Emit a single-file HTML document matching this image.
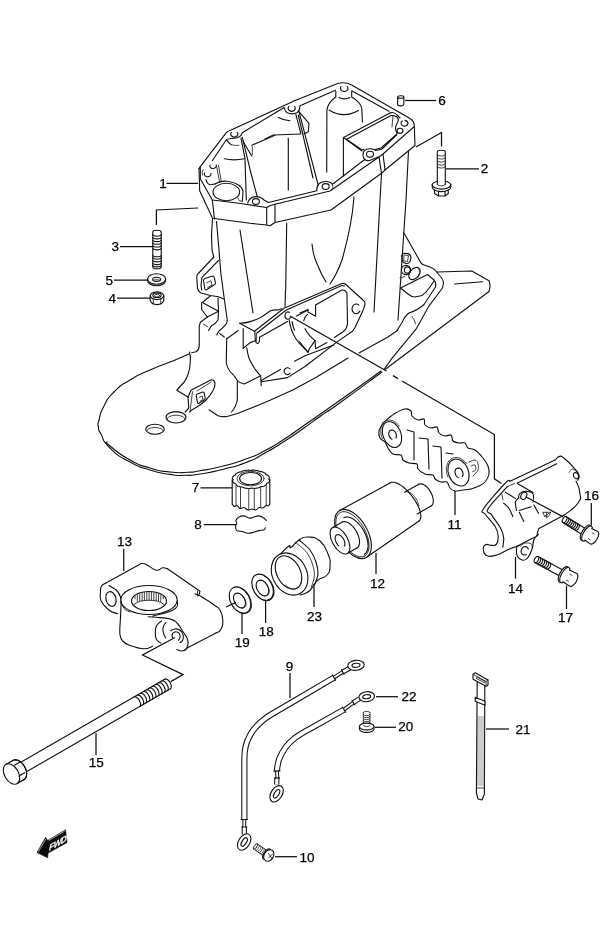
<!DOCTYPE html>
<html><head><meta charset="utf-8">
<style>
html,body{margin:0;padding:0;background:#fff;}
body{width:600px;height:949px;overflow:hidden;font-family:"Liberation Sans",sans-serif;}
svg{display:block;}
.l{fill:none;stroke:#111;stroke-width:1.12;stroke-linecap:round;stroke-linejoin:round;}
.w{fill:#fff;stroke:#111;stroke-width:1.12;stroke-linecap:round;stroke-linejoin:round;}
.t{fill:none;stroke:#222;stroke-width:0.85;stroke-linecap:round;stroke-linejoin:round;}
.ld{fill:none;stroke:#111;stroke-width:1.25;}
text{font-family:"Liberation Sans",sans-serif;font-size:13.5px;fill:#000;stroke:#000;stroke-width:0.25px;text-anchor:middle;}
</style></head><body>
<svg width="600" height="949" viewBox="0 0 600 949">
<rect width="600" height="949" fill="#fff"/>
<defs><filter id="idf" x="0" y="0" width="100%" height="100%" filterUnits="userSpaceOnUse"><feOffset dx="0" dy="0"/></filter></defs>
<g id="labels" filter="url(#idf)">
<text x="163" y="188">1</text>
<text x="484.5" y="173.3">2</text>
<text x="115.3" y="251.2">3</text>
<text x="112.3" y="302.8">4</text>
<text x="109.2" y="284.8">5</text>
<text x="442" y="105.2">6</text>
<text x="195.4" y="492.3">7</text>
<text x="198" y="529.3">8</text>
<text x="289.6" y="670.7">9</text>
<text x="307" y="861.7">10</text>
<text x="454.5" y="529">11</text>
<text x="377.5" y="588">12</text>
<text x="124.6" y="546.3">13</text>
<text x="515.5" y="592.8">14</text>
<text x="96.3" y="767.3">15</text>
<text x="591.5" y="499.6">16</text>
<text x="565.4" y="621.8">17</text>
<text x="266.2" y="635.6">18</text>
<text x="242.3" y="647">19</text>
<text x="405.7" y="730.6">20</text>
<text x="523" y="734">21</text>
<text x="409" y="700.9">22</text>
<text x="314.5" y="620.6">23</text>
</g>
<g id="leaders" class="ld">
<path d="M166.5,183.4H198"/>
<path d="M446,168.8H479"/>
<path d="M120,246.6H153"/>
<path d="M114,280H147.6"/>
<path d="M117,298H150"/>
<path d="M405,100.5H436"/>
<path d="M416,147L441.5,132.5V146.4"/>
<path d="M156.4,225V210L198,208"/>
<path d="M200.5,487.9H232.2"/>
<path d="M203.8,524.5H236"/>
<path d="M242,613V634"/>
<path d="M265.6,600V623"/>
<path d="M314,584V607"/>
<path d="M376,553V574"/>
<path d="M455,491V515"/>
<path d="M515.5,557V578.7"/>
<path d="M591.3,503V525.6"/>
<path d="M566.5,585.6V609"/>
<path d="M123.75,548.75V571"/>
<path d="M96,733.3V755.3"/>
<path d="M290,673V698"/>
<path d="M376,696.7H398"/>
<path d="M375,727.3H396"/>
<path d="M275,856.7H297"/>
<path d="M486,729H509"/>
</g>

<g id="housing">
<path class="l" d="M200.3,166.7 L226.3,132.7 Q228,130.8 230.5,130.3 L293.5,101.2 L294.2,100.3 L295.2,100.4 L338.3,83.3 Q345,81.5 351.7,85 L410,118.5 Q414.3,121.3 414.3,126"/>
<path class="l" d="M199,168.5 L200.3,166.7 L200.3,178.7 L212.3,200 L239,203.3 L266.7,207.5 L270,205.8 L275,204.2 L330,191 L379,157 L383,154 L414.3,126.5"/>
<path class="l" d="M199,168.5 L199.7,190.7 L212.5,218.3 L250,223.3 L266.7,225 L270,225.8 L275,222.5 L331,210 L381.5,173.3 L385,170 L415,145.5 L414.3,126.5"/>
<path class="l" d="M212.3,200 L214.5,219"/>
<path class="l" d="M266.7,207.5 L266.7,224.7"/>
<path class="l" d="M275,204.2 L275,222.3"/>
<path class="l" d="M379,157 L381.5,173.3"/>
<path class="l" d="M383,154 L385,170"/>
<path class="l" d="M212.3,160.7 L225.3,141.2 Q226.6,138.8 229.5,138.7 L236,138 Q241.3,137 242.3,132.7 L284.2,107.5 Q284.6,110.5 286.7,112.5 Q291.7,115.2 297.5,112.5 Q300,110 300,105.8 L335.4,90.2"/>
<path class="l" d="M351.7,90.8 L389,111.2"/>
<path class="l" d="M237.2,132.3 A3.6,2.952 0 1 1 231.4,132.3"/>
<path class="l" d="M294.6,106.6 A3.6,2.952 0 1 1 288.8,106.6"/>
<path class="l" d="M347.3,86.5 A3.8,3.1159999999999997 0 1 1 341.1,86.5"/>
<path class="l" d="M405.1,120.4 A3.5,2.8699999999999997 0 1 1 402.3,121.0"/>
<ellipse class="l" cx="400" cy="130.8" rx="3" ry="2.6"/>
<ellipse class="l" cx="370" cy="154.2" rx="3.5" ry="2.9"/>
<ellipse class="l" cx="325.7" cy="186.5" rx="3.5" ry="2.9"/>
<ellipse class="l" cx="255.9" cy="201.5" rx="3.5" ry="2.9"/>
<path class="l" d="M216.2,165.5 A3.2,2.624 0 1 1 210.0,165.1"/>
<path class="l" d="M211.0,173.5 A3.4,2.788 0 1 1 204.5,173.0"/>
<path class="t" d="M216.3,164.7 L219.7,182.7"/>
<path class="t" d="M218.5,165.5 L221.3,181.5"/>
<path class="l" d="M206,179.5 Q207,184 210,184.8 L215,184"/>
<path class="t" d="M203,170 Q201.5,172 202.5,175"/>
<ellipse class="l" cx="226.3" cy="192" rx="13.3" ry="8.7"/>
<path class="l" d="M215,184 Q220,180.6 227,181.3 Q234,182 239,185.3 Q243,188.5 243,192 L242.3,201.3"/>
<path class="t" d="M237.7,198 Q238.2,201.5 242.3,201.5"/>
<path class="l" d="M247.7,203.3 Q248.5,198.3 254,196.9 Q260,195.8 264,200 L268.3,202.5 L316.8,190.8 Q316.5,186 319.5,183.2 Q325,180 331,182.8 L332.5,184.3 L364.7,159.5"/>
<path class="t" d="M332.5,184.3 Q334,187.5 331.5,190.3"/>
<path class="l" d="M364.7,159.5 Q361.5,155.5 364,151 Q367,148.4 371,148.8 Q374.5,149.3 376,150.5 M364.7,159.5 Q367,161.5 371,160 L378,157"/>
<path class="l" d="M362,151 L343.5,137.5 L390.5,112.8"/>
<path class="l" d="M390.5,112.8 Q394,111.5 397,115 L400,118"/>
<path class="l" d="M376,150.5 L382,149 L396.5,135"/>
<path class="l" d="M346.5,139.3 L391.5,115.2 L396.5,116.5 Q400,119.5 396.5,124.5 Q394.5,128.5 396.5,132 L397,134 L381,148 L375,149.5 M364,149.3 L362,150 L346.5,139.3"/>
<path class="t" d="M393,115.5 L392,127"/>
<path class="l" d="M343.4,138 V176"/>
<path class="l" d="M335.8,91.2 V97 Q328,102 326.9,110 L326.7,172"/>
<path class="l" d="M351.7,91.5 V97 Q360.5,102 361.8,108.5 L362.4,122"/>
<path class="l" d="M339,97.6 Q344.5,100.2 350,97.6"/>
<path class="l" d="M329,110 Q343.3,119 358.5,110.5"/>
<path class="l" d="M278.3,117.5 Q284,120.5 290,120.8"/>
<path class="l" d="M295.8,114.2 L300.8,133.3"/>
<path class="l" d="M298.3,110.8 L309,123.3 L308.3,131.7 L304,134"/>
<path class="l" d="M299,111.7 L318.3,185.5"/>
<path class="l" d="M298.3,115 L313,178"/>
<path class="l" d="M265,139 L273.3,135 L300.8,134"/>
<path class="l" d="M288.3,138.3 V190"/>
<path class="l" d="M226.3,140 L231,144.7"/>
<path class="l" d="M241,138 L245,158.7 L246.3,200"/>
<path class="l" d="M242.3,137.3 L251,173.3 L257.3,197"/>
<path class="l" d="M243,141.3 L251.7,156"/>
<path class="l" d="M251.7,145.3 L275,135.3"/>
<path class="t" d="M252.3,146.7 V154.7"/>
<path class="l" d="M224.3,158.7 Q233.7,161 244.3,158.7"/>
<path class="t" d="M231,144.7 Q236,146 239,145.3"/>
<path class="l" d="M212.5,218.3 L211.5,235 L212,250 L213.8,257 L197.8,274 Q196.5,275.5 196.8,278 L197.5,288.5 Q198.5,292 201,293 L210.3,295.5 L218.5,296.7 L223.75,299"/>
<path class="l" d="M218.5,260.5 L202,277.4 L201,285 L201.6,290"/>
<path class="l" d="M203.5,280.5 Q203.5,279 205,278.5 L212.5,276 Q214,276 214.3,277.5 L215.5,283 Q215.5,284.5 214,285 L206.5,289.8 Q205,290 204.7,288.5 Z"/>
<path class="t" d="M206.8,282.5 L211,280.8 L212,285.2 L207.7,287.3"/>
<path class="l" d="M216.5,221.5 L219,250 L220.8,273 L224.3,299 L227.25,320 Q227.5,323 225,325.5 L218.5,331.7 L216.75,335"/>
<path class="l" d="M219.7,333.4 L224.3,337 M226.7,338.7 L238.3,330.5"/>
<path class="l" d="M226.7,338.7 L226.25,362.5 Q227.5,370 233,374.5 L235,377"/>
<path class="l" d="M210.3,296 L201.6,303 L201.6,309.5 L207.4,317 L218.5,311.25"/>
<path class="l" d="M203.3,303 L218.5,311.25"/>
<path class="l" d="M218,297.8 L218.5,311.25 L218,320 Q216,323.5 211.5,325.8 L208.6,330.5"/>
<path class="l" d="M207.4,317 L200.4,322.3 L199.25,325.8 L199.25,345.7 Q199,350 196,351.8 L191.7,352.7"/>
<path class="t" d="M203.3,324 L208,327"/>
<path class="l" d="M240,230 L253,313"/>
<path class="l" d="M286.7,223 L285.7,290"/>
<path class="l" d="M312,244 Q313,256 318,266 Q321,274 326,282"/>
<path class="l" d="M354,197 Q352,225 342,260 Q337,274 330,284"/>
<path class="l" d="M381.5,174 L380,200 L374,312"/>
<path class="l" d="M408.5,151 L406,200 L398,320"/>
<path class="l" d="M239.7,323.3 Q246,323 250.2,321.6 Q256,320 260.7,317.5 Q266,314 270,311 Q274,309.6 278.2,310 L281.5,308.8"/>
<path class="l" d="M254.8,331 L284,308.2 L341.25,283.75 Q343.5,283 345,283.75 L363,300 Q365.3,301.5 365,303.75 L363.75,308.75 L355,327.5 L352.5,331.25 L338.75,340.6 L305,366.5 L287.5,377.6 L261.25,381.7"/>
<path class="l" d="M256.6,333.25 L286.3,310 L341.25,285.8 Q343,285.2 344.5,286"/>
<path class="l" d="M239.7,323.3 L254.8,331.5 L255.4,340.8 Q256.3,343.6 257.5,343.6 Q259,343.3 259.5,340.8 L259.5,337.3 L287.5,321.6"/>
<path class="t" d="M256.6,334 V341"/>
<path class="l" d="M243.2,328.6 V348.4 L247.25,345 L250.2,342.6 L255.4,340.8"/>
<path class="l" d="M246.7,347.8 Q247.5,353 249,358.3 Q251.5,364 254.8,368.8 Q257.5,372.5 260.7,375.8 L261.25,385.75"/>
<path class="l" d="M261.25,380.5 L280.5,369.4 M294.5,361.25 L305,355.8 L333.75,345"/>
<path class="l" d="M300,313 L308,309.4 V312 L315.6,316.25 V305 L341.9,290 Q345.5,289.5 346.9,293 L347.5,323.75 Q347,328.5 343.75,331.25 L334.4,337.5 M327,342.5 L315.6,348.75 L315,340.6"/>
<path class="l" d="M296.5,316 L308,310"/>
<path class="l" d="M315,340.6 L309.4,348.75 L308,352.5 L300,342.5"/>
<path class="l" d="M290.1,373.4 A3.4,3.4 0 1 1 290.1,369.0"/>
<path class="l" d="M359.9,311.1 A4.2,4.8 0 1 1 358.9,305.1"/>
<path class="l" d="M290.7,316.8 A2.9,3.7 0 1 1 289.4,312.3"/>
<path class="l" d="M289.25,320.4 Q290.5,330 295.7,338.5 Q299.5,344.5 305,349 L308,352"/>
<path class="l" d="M292.2,321.6 Q292.7,326 294.5,330.3"/>
<path class="t" d="M299,341 Q302.5,346 307,350"/>
<path class="l" d="M307.5,314.4 Q304.5,317 303.75,320.6"/>
<path class="l" d="M305,328.75 Q308,335 315,340.6"/>
<path class="l" d="M235,377 L237.3,380.5 Q240,383.5 244.3,384 L260.7,375.8 M237.3,380.5 V400"/>
<path class="l" d="M285.5,290 L285,306.5"/>
<path class="l" d="M404,233 L421,263 Q422.5,264.6 424,265 L430,267 Q433,268.2 435,270 L440,276 Q443.5,280 443.5,283 L442.5,288 L428.5,306.7 L416.6,328.3 L391.7,358.7 L384,369.5"/>
<path class="l" d="M437,272 L471.8,271 L489,280.7 Q491,285 489,291.5 L385,369.5"/>
<path class="l" d="M454.5,284 L482.7,281.75"/>
<path class="l" d="M427.5,274.5 L434,280 Q436.5,283 435.5,287 L424,304.5 Q418,310 409,313 Q404,317 402.5,321.8 L397,330.5"/>
<path class="l" d="M400.5,288 L427.5,274.5"/>
<path class="l" d="M400.5,288 L408,294 Q411.5,297 415,297 L422,295.5 Q426,293 430,287 L434,281"/>
<path class="t" d="M412,316.4 Q415,320 415.5,324"/>
<path class="l" d="M401.8,257 Q401.5,254 404,253.3 L408,253.6 Q411,254.5 411,257.5 L410,261.5 Q409,263.8 406,263.5 L403.5,262.5 Q401.6,261 401.8,257 Z"/>
<path class="t" d="M404.5,255 L408.5,255.5 L407.5,261.5 L404,261 Z"/>
<ellipse class="l" cx="406" cy="270" rx="4.6" ry="4.6"/>
<ellipse class="l" cx="407.3" cy="270" rx="3" ry="3.1"/>
<ellipse class="l" cx="414.5" cy="273.5" rx="4.6" ry="7" transform="rotate(40 414.5 273.5)"/>
<path class="t" d="M418.5,268.8 Q421,272 418,277.3"/>
<path class="t" d="M400,278 L405,276.5"/>
<path class="l" d="M189.5,352 Q191,357 190.25,362.5 Q190,369 188,374.5 Q186.5,378.5 184.25,382 L176.75,390.25 L188,397"/>
<path class="l" d="M188,397 L191,390.25 L211.25,379.75 Q214,379.5 215,382.75 Q215.3,387 212.75,391 Q210,396 206,400 Q202.5,403.5 198.5,406 L191,410.5 L189.5,412"/>
<path class="l" d="M188,397 L188.75,407.5 Q188,410 185,412"/>
<path class="t" d="M192.5,391.75 L190.25,409.75"/>
<path class="t" d="M197,391 L211.25,382"/>
<path class="l" d="M196.25,396 Q196,394.5 197.5,394 L202.5,392 Q204,391.8 204.2,393.3 L205.2,398 Q205.3,399.5 204,400 L199,403.3 Q197.8,403.7 197.5,402.3 Z"/>
<path class="t" d="M199.3,397.3 L202.3,396 L203,399.5 L200,401.3"/>
<path class="l" d="M209,409.75 L218,415.75 Q222,417 227,416.5 L237.5,413.5 L260,404.5 L270,400.3 L293.3,389.8 L316.7,377 L348,358 M359,353 L388,337 L398,330"/>
<path class="l" d="M237.3,400 Q236,407 231.5,412"/>
<path class="l" d="M189.0,354.0 C182.7,356.7 183.0,356.7 170.0,362.0 C157.0,367.3 163.3,364.0 150.0,370.0 C136.7,376.0 142.0,372.7 130.0,380.0 C118.0,387.3 122.7,383.3 114.0,392.0 C105.3,400.7 109.0,396.7 104.0,406.0 C99.0,415.3 100.9,413.0 99.0,420.0 C97.1,427.0 97.7,422.3 98.4,427.0 C99.1,431.7 97.1,427.0 101.0,434.0 C104.9,441.0 100.3,438.7 110.0,448.0 C119.7,457.3 116.7,454.7 130.0,462.0 C143.3,469.3 136.7,465.9 150.0,470.0 C163.3,474.1 158.3,472.6 170.0,474.4 C181.7,476.2 175.0,475.4 185.0,475.3 C195.0,475.2 187.2,476.0 200.0,474.0 C212.8,472.0 207.7,473.1 223.3,469.2 C238.9,465.3 232.7,467.7 246.7,462.2 C260.7,456.7 252.1,460.2 265.3,452.8 C278.5,445.4 273.1,448.5 286.3,440.0 C299.5,431.5 293.3,435.4 305.0,427.2 C316.7,419.0 309.6,423.7 321.3,415.5 C333.0,407.3 319.8,417.2 340.0,402.7 C360.2,388.2 368.0,382.2 382.0,372.0"/>
<path class="l" d="M107.0,442.0 C108.0,443.3 102.3,440.0 110.0,446.0 C117.7,452.0 116.7,452.7 130.0,460.0 C143.3,467.3 136.7,464.0 150.0,468.0 C163.3,472.0 157.3,470.6 170.0,472.0 C182.7,473.4 178.0,472.6 188.0,472.2 C198.0,471.8 188.2,472.9 200.0,470.8 C211.8,468.7 207.7,470.0 223.3,466.0 C238.9,462.0 232.7,463.9 246.7,458.7 C260.7,453.5 252.1,457.5 265.3,450.5 C278.5,443.5 273.1,446.3 286.3,437.7 C299.5,429.1 287.1,437.3 305.0,424.8 C322.9,412.3 314.7,418.2 340.0,400.3 C365.3,382.4 367.3,380.8 381.0,371.0"/>
<ellipse class="l" cx="176" cy="417.3" rx="10" ry="5.7"/>
<ellipse class="l" cx="155" cy="429.3" rx="9.3" ry="5"/>
<path class="t" d="M167.0,419.2 A9,4 0 0 1 185.0,419.2"/>
<path class="t" d="M146.7,431.0 A8.3,3.5 0 0 1 163.3,431.0"/>
<path class="ld" d="M290,316 L386.5,371 M393,375.6 L398,378.6 M402,381 L494.4,434.5 V478.8 L501.4,483.5"/>
</g>
<g id="small">
<path class="l" d="M397.6,97 V104.6 A3.1,1.3 0 0 0 403.8,104.6 V97 A3.1,1.3 0 0 0 397.6,97 A3.1,1.3 0 0 0 403.8,97"/>
<path class="l" d="M437.3,152 V184.5 M445.3,152 V184.5 M437.3,152 A4,1.8 0 0 1 445.3,152"/>
<path class="t" d="M437.3,154.5 A4,1.6 0 0 0 445.3,154.5"/>
<path class="t" d="M437.3,157.5 A4,1.6 0 0 0 445.3,157.5"/>
<path class="t" d="M437.3,160.5 A4,1.6 0 0 0 445.3,160.5"/>
<path class="t" d="M437.3,163.5 A4,1.6 0 0 0 445.3,163.5"/>
<path class="t" d="M437.3,166.5 A4,1.6 0 0 0 445.3,166.5"/>
<path class="t" d="M437.3,184.3 A4,1.6 0 0 0 445.3,184.3"/>
<path class="l" d="M437.3,181.2 A9.3,4.4 0 0 0 432.2,184.5 A9.3,4.6 0 0 0 450.8,184.5 A9.3,4.4 0 0 0 445.3,181.2"/>
<path class="l" d="M432.2,184.5 V187 A9.3,4.6 0 0 0 450.8,187 V184.5"/>
<path class="l" d="M434.5,190 V193.5 L438.5,196 L445,196 L448.3,193.5 V190 M438.5,191.6 V196 M445,191.6 V196"/>
<path class="l" d="M152.8,232 V267 M161.2,232 V267 M152.8,232 A4.2,1.8 0 0 1 161.2,232 M152.8,267 A4.2,1.8 0 0 0 161.2,267"/>
<path class="l" d="M152.8,234.6 A4.2,1.6 0 0 0 161.2,234.6"/>
<path class="l" d="M152.8,237.3 A4.2,1.6 0 0 0 161.2,237.3"/>
<path class="l" d="M152.8,240 A4.2,1.6 0 0 0 161.2,240"/>
<path class="l" d="M152.8,242.7 A4.2,1.6 0 0 0 161.2,242.7"/>
<path class="l" d="M152.8,245.4 A4.2,1.6 0 0 0 161.2,245.4"/>
<path class="l" d="M152.8,248.3 A4.2,1.6 0 0 0 161.2,248.3"/>
<path class="l" d="M152.8,255.2 A4.2,1.6 0 0 0 161.2,255.2"/>
<path class="l" d="M152.8,257.6 A4.2,1.6 0 0 0 161.2,257.6"/>
<path class="l" d="M152.8,260.3 A4.2,1.6 0 0 0 161.2,260.3"/>
<path class="l" d="M152.8,263 A4.2,1.6 0 0 0 161.2,263"/>
<path class="l" d="M152.8,265.3 A4.2,1.6 0 0 0 161.2,265.3"/>
<ellipse class="l" cx="156.6" cy="279" rx="9" ry="5.2"/>
<ellipse class="l" cx="156.6" cy="279.3" rx="4" ry="2.1"/>
<path class="l" d="M147.6,279 V280.6 A9,5.2 0 0 0 165.6,280.6 V279"/>
<path class="t" d="M153.2,280.3 A4,1.6 0 0 1 160,280.3"/>
<path class="l" d="M150.2,296 Q150.5,292.3 157,291.8 Q163.5,292.3 163.8,296 L163.8,300.5 Q162.5,304.3 157,304.6 Q151.5,304.3 150.2,300.5 Z"/>
<path class="l" d="M150.2,296 Q151.5,299.3 157,299.6 Q162.5,299.3 163.8,296"/>
<path class="t" d="M153.3,299 V304 M160.7,299 V304"/>
<ellipse class="l" cx="157" cy="295.2" rx="4.1" ry="2.3"/>
<ellipse class="t" cx="157" cy="295.6" rx="2.6" ry="1.4"/>
</g>
<g id="parts">
<path class="l" d="M268.9,479.3 L269.5,479.8 L269.7,480.3 L269.6,480.8 L269.4,481.2 L269.2,481.7 L268.9,482.2 L268.5,482.6 L267.8,483.0 L266.9,483.3 L266.5,483.7 L266.5,484.3 L266.2,484.8 L265.6,485.2 L265.0,485.5 L264.3,485.9 L263.6,486.2 L262.8,486.5 L261.8,486.6 L260.7,486.7 L260.0,487.0 L259.4,487.5 L258.6,487.8 L257.7,488.0 L256.8,488.1 L255.9,488.3 L254.9,488.4 L253.9,488.5 L252.9,488.3 L251.9,488.1 L251.0,488.2 L250.0,488.5 L249.0,488.5 L248.1,488.5 L247.1,488.4 L246.1,488.3 L245.2,488.1 L244.3,488.0 L243.5,487.6 L242.9,487.2 L242.0,487.0 L240.9,487.0 L239.9,486.8 L239.2,486.5 L238.4,486.2 L237.7,485.9 L237.0,485.5 L236.4,485.2 L236.1,484.6 L236.1,484.1 L235.5,483.7 L234.5,483.5 L233.8,483.1 L233.4,482.6 L233.1,482.2 L232.8,481.7 L232.6,481.2 L232.4,480.8 L232.7,480.2 L233.2,479.8 L233.1,479.3 L232.5,478.8 L232.3,478.3 L232.4,477.8 L232.6,477.4 L232.8,476.9 L233.1,476.4 L233.5,476.0 L234.2,475.6 L235.1,475.3 L235.5,474.9 L235.5,474.3 L235.8,473.8 L236.4,473.4 L237.0,473.1 L237.7,472.7 L238.4,472.4 L239.2,472.1 L240.2,472.0 L241.3,471.9 L242.0,471.6 L242.6,471.1 L243.4,470.8 L244.3,470.6 L245.2,470.5 L246.1,470.3 L247.1,470.2 L248.1,470.1 L249.1,470.3 L250.1,470.5 L251.0,470.4 L252.0,470.1 L253.0,470.1 L253.9,470.1 L254.9,470.2 L255.9,470.3 L256.8,470.5 L257.7,470.6 L258.5,471.0 L259.1,471.4 L260.0,471.6 L261.1,471.6 L262.1,471.8 L262.8,472.1 L263.6,472.4 L264.3,472.7 L265.0,473.1 L265.6,473.4 L265.9,474.0 L265.9,474.5 L266.5,474.9 L267.5,475.1 L268.2,475.5 L268.6,476.0 L268.9,476.4 L269.2,476.9 L269.4,477.4 L269.6,477.8 L269.3,478.4 L268.8,478.8Z" />
<ellipse class="t" cx="250.6" cy="478.6" rx="13.6" ry="7.3"/>
<ellipse class="l" cx="250.6" cy="478.6" rx="11" ry="6.1"/>
<path class="l" d="M232.2,479.5 V504 M269.8,479.5 V504" />
<path class="l" d="M232.2,504.0 C232.5,504.4 233.2,506.2 234.0,506.5 C234.8,506.8 236.0,505.2 237.0,505.5 C238.0,505.8 238.8,508.2 240.0,508.5 C241.2,508.8 242.7,507.2 244.0,507.5 C245.3,507.8 246.7,509.8 248.0,510.0 C249.3,510.2 250.7,509.0 252.0,509.0 C253.3,509.0 254.8,510.2 256.0,510.0 C257.2,509.8 257.8,507.8 259.0,507.5 C260.2,507.2 261.8,508.3 263.0,508.0 C264.2,507.7 265.1,505.8 266.0,505.5 C266.9,505.2 267.9,506.2 268.5,506.0 C269.1,505.8 269.6,504.3 269.8,504.0" />
<path class="t" d="M236,485.5 V506" />
<path class="t" d="M240.5,487 V507.5" />
<path class="t" d="M248.75,488.5 V509.5" />
<path class="t" d="M254.25,488.5 V509.5" />
<path class="t" d="M260.7,487.6 V507.5" />
<path class="t" d="M266.2,485.5 V505.5" />
<path class="l" d="M266.2,520.5 C265.7,520.0 264.6,518.5 263.4,517.8 C262.2,517.0 260.5,516.0 258.8,515.9 C257.1,515.8 254.8,516.8 253.3,517.2 C251.8,517.6 251.2,518.5 249.7,518.3 C248.2,518.1 246.0,516.1 244.2,515.9 C242.4,515.7 240.1,516.4 238.7,517.2 C237.3,518.0 236.2,519.5 235.9,520.5 C235.6,521.5 236.9,522.3 236.8,523.2 C236.7,524.2 235.5,524.8 235.5,526.0 C235.5,527.2 235.7,529.7 236.8,530.6 C237.9,531.5 240.5,531.0 242.3,531.5 C244.1,532.0 246.0,533.1 247.8,533.3 C249.6,533.4 251.5,532.8 253.3,532.4 C255.1,532.0 257.0,531.0 258.8,530.6 C260.6,530.2 263.2,530.2 264.3,529.7 C265.4,529.2 265.1,528.1 265.2,527.8" />
<ellipse class="l" cx="240.6" cy="600.4" rx="14" ry="9.5" transform="rotate(60 240.6 600.4)"/>
<ellipse class="w" cx="240.0" cy="600.0" rx="14" ry="9.5" transform="rotate(60 240.0 600.0)"/>
<ellipse class="l" cx="239.5" cy="600.5" rx="8" ry="5.2" transform="rotate(60 239.5 600.5)"/>
<path class="t" d="M242.2,596.0 L242.8,596.5 L243.4,597.2 L243.9,597.8 L244.4,598.5 L244.8,599.3 L245.2,600.0 L245.5,600.8 L245.7,601.6 L245.9,602.4 L246.0,603.2 L246.0,603.9 L246.0,604.6 L245.9,605.3 L245.7,605.9 L245.4,606.4 L245.1,606.9 L244.7,607.3 L244.3,607.6 L243.8,607.8 L243.3,608.0 L242.7,608.0 L242.1,608.0 L241.5,607.8 L240.9,607.6" />
<path class="ld" d="M226,607 L236,602.4" />
<ellipse class="l" cx="263.2" cy="587.6" rx="14" ry="9.5" transform="rotate(60 263.2 587.6)"/>
<ellipse class="w" cx="262.6" cy="587.2" rx="14" ry="9.5" transform="rotate(60 262.6 587.2)"/>
<ellipse class="l" cx="262.5" cy="588.0" rx="8.5" ry="5.5" transform="rotate(60 262.5 588.0)"/>
<path class="t" d="M265.1,583.1 L265.7,583.7 L266.3,584.4 L266.8,585.1 L267.3,585.8 L267.8,586.6 L268.2,587.4 L268.5,588.2 L268.8,589.1 L268.9,589.9 L269.1,590.7 L269.1,591.5 L269.1,592.2 L268.9,592.9 L268.8,593.6 L268.5,594.1 L268.2,594.6 L267.8,595.0 L267.3,595.4 L266.8,595.6 L266.2,595.7 L265.6,595.8 L265.0,595.7 L264.4,595.6 L263.7,595.3" />
<path class="l" d="M280.0,554.4 C282.4,552.2 286.1,547.8 289.0,546.0 C291.9,544.2 288.3,549.2 291.0,547.6 C293.7,546.0 294.5,542.8 299.0,540.0 C303.5,537.2 302.4,536.7 308.0,537.0 C313.6,537.3 314.7,536.5 320.0,541.0 C325.3,545.5 325.3,547.3 328.0,554.0 C330.7,560.7 330.3,560.4 330.0,566.0 C329.7,571.6 330.2,571.3 327.0,575.0 C323.8,578.7 321.5,577.3 318.0,580.0 C314.5,582.7 316.7,581.8 314.0,585.0 C311.3,588.2 311.7,589.3 308.0,592.0 C304.3,594.7 302.1,594.2 300.0,595.0" />
<path class="l" d="M299.0,540.0 C300.8,541.7 307.2,546.3 310.0,550.0 C312.8,553.7 314.7,558.0 316.0,562.0 C317.3,566.0 318.2,570.3 318.0,574.0 C317.8,577.7 315.5,582.3 315.0,584.0" />
<path class="t" d="M295.6,542.4 C297.4,544.0 303.6,548.4 306.4,552.0 C309.2,555.6 311.1,560.0 312.4,564.0 C313.7,568.0 314.6,572.2 314.4,576.0 C314.2,579.8 311.9,585.2 311.4,587.0" />
<ellipse class="w" cx="289.6" cy="574.0" rx="22.1" ry="17.1" transform="rotate(62 289.6 574.0)"/>
<ellipse class="l" cx="288.5" cy="572.5" rx="17.8" ry="11.7" transform="rotate(62 288.5 572.5)"/>
<path class="t" d="M301.4,576.5 L301.5,577.8 L301.6,579.1 L301.5,580.3 L301.4,581.5 L301.2,582.6 L300.8,583.7 L300.4,584.6 L299.9,585.5 L299.4,586.3 L298.7,587.0 L298.0,587.6 L297.2,588.1 L296.4,588.4 L295.5,588.7 L294.6,588.8 L293.6,588.9 L292.6,588.8 L291.6,588.6 L290.5,588.3 L289.5,587.8 L288.4,587.3 L287.4,586.6 L286.3,585.9 L285.3,585.1" />
<path class="l" d="M418.8,484.3 L419.6,483.9 L420.5,483.8 L421.4,483.9 L422.5,484.1 L423.5,484.6 L424.6,485.2 L425.7,486.0 L426.8,486.9 L427.8,488.0 L428.8,489.2 L429.8,490.6 L430.6,492.0 L431.4,493.4 L432.0,494.9 L432.5,496.4 L432.9,497.8 L433.2,499.2 L433.3,500.6 L433.3,501.8 L433.1,503.0 L432.8,504.0 L432.3,504.8 L431.8,505.5 L431.1,506.0" />
<path class="l" d="M417.1,513.9 L431.1,506.0 M404.9,492.1 L418.8,484.3" />
<path class="t" d="M404.9,492.1 L405.4,491.9 L405.9,491.7 L406.5,491.7 L407.2,491.7 L407.8,491.8 L408.5,492.0 L409.2,492.2 L409.9,492.6 L410.7,493.0 L411.4,493.6 L412.1,494.1 L412.8,494.8 L413.5,495.5 L414.2,496.3 L414.9,497.1 L415.5,498.0 L416.1,498.9 L416.7,499.8 L417.2,500.8 L417.6,501.7 L418.1,502.7 L418.4,503.7 L418.7,504.7 L419.0,505.7" />
<path class="l" d="M390.0,483.0 L391.1,482.4 L392.4,482.2 L394.0,482.3 L395.7,482.7 L397.6,483.4 L399.6,484.5 L401.7,485.9 L403.8,487.5 L405.9,489.4 L408.0,491.5 L410.1,493.8 L412.0,496.2 L413.9,498.8 L415.5,501.3 L417.0,503.9 L418.3,506.5 L419.3,509.0 L420.1,511.3 L420.6,513.6 L420.8,515.6 L420.8,517.3 L420.5,518.8 L419.9,520.1 L419.0,521.0" />
<path class="l" d="M339.7,510.5 L390,483 M366.3,557.5 L419,521" />
<ellipse class="w" cx="353.0" cy="534.0" rx="27" ry="14.6" transform="rotate(60.6 353.0 534.0)"/>
<ellipse class="t" cx="352.5" cy="534.3" rx="25" ry="13" transform="rotate(60.6 352.5 534.3)"/>
<path class="l" d="M343.7,517.7 L345.0,517.2 L346.5,516.9 L348.1,517.0 L349.9,517.5 L351.7,518.2 L353.5,519.2 L355.3,520.6 L357.1,522.2 L358.9,524.0 L360.6,526.0 L362.2,528.3 L363.6,530.6 L364.8,533.0 L365.9,535.5 L366.8,538.0 L367.5,540.5 L367.9,542.9 L368.1,545.1 L368.0,547.2 L367.7,549.1 L367.2,550.8 L366.4,552.3 L365.5,553.4 L364.3,554.3" />
<path class="l" d="M342.3,522.1 L343.2,521.7 L344.3,521.6 L345.4,521.7 L346.6,522.0 L347.9,522.5 L349.2,523.2 L350.5,524.2 L351.7,525.3 L353.0,526.6 L354.2,528.1 L355.3,529.7 L356.3,531.3 L357.2,533.0 L358.0,534.8 L358.6,536.6 L359.1,538.3 L359.4,540.0 L359.5,541.6 L359.5,543.1 L359.3,544.5 L358.9,545.6 L358.4,546.7 L357.7,547.5 L356.9,548.1" />
<path class="l" d="M347.3,553.5 L356.9,548.1 M332.7,527.5 L342.3,522.1" />
<ellipse class="w" cx="340.0" cy="540.5" rx="14.9" ry="7.7" transform="rotate(60.6 340.0 540.5)"/>
<path class="l" d="M338.7,545.7 L337.8,544.8 L336.9,543.7 L336.2,542.4 L335.7,541.1 L335.3,539.8 L335.1,538.6 L335.1,537.4 L335.4,536.4 L335.8,535.6 L336.4,535.0 L337.1,534.7 L338.0,534.6 L338.9,534.8 L339.9,535.2 L340.9,535.9 L341.8,536.8 L342.7,537.8 L343.5,539.0 L344.1,540.3 L344.6,541.6 L344.8,542.9 L344.9,544.1 L344.8,545.2 L344.4,546.1" />
<path class="l" d="M383.0,423.0 C384.8,421.5 390.3,416.3 394.0,414.0 C397.7,411.7 402.2,409.5 405.0,409.0 C407.8,408.5 409.8,409.8 411.0,411.0 C412.2,412.2 410.8,414.5 412.0,416.0 C413.2,417.5 416.0,419.5 418.0,420.0 C420.0,420.5 422.8,418.2 424.0,419.0 C425.2,419.8 423.8,423.5 425.0,425.0 C426.2,426.5 429.0,427.7 431.0,428.0 C433.0,428.3 435.7,426.2 437.0,427.0 C438.3,427.8 437.7,431.5 439.0,433.0 C440.3,434.5 443.0,435.7 445.0,436.0 C447.0,436.3 449.7,434.2 451.0,435.0 C452.3,435.8 451.7,439.7 453.0,441.0 C454.3,442.3 457.0,442.7 459.0,443.0 C461.0,443.3 463.5,442.2 465.0,443.0 C466.5,443.8 466.3,446.8 468.0,448.0 C469.7,449.2 472.5,448.3 475.0,450.0 C477.5,451.7 480.8,455.3 483.0,458.0 C485.2,460.7 487.0,463.3 488.0,466.0 C489.0,468.7 489.5,471.3 489.0,474.0 C488.5,476.7 486.7,480.0 485.0,482.0 C483.3,484.0 481.3,484.8 479.0,486.0 C476.7,487.2 472.3,488.5 471.0,489.0" />
<path class="l" d="M383.0,423.0 C382.3,424.3 379.5,428.5 379.0,431.0 C378.5,433.5 379.0,436.2 380.0,438.0 C381.0,439.8 383.7,440.3 385.0,442.0 C386.3,443.7 386.7,446.0 388.0,448.0 C389.3,450.0 390.8,452.8 393.0,454.0 C395.2,455.2 399.3,454.0 401.0,455.0 C402.7,456.0 401.7,458.7 403.0,460.0 C404.3,461.3 406.7,462.3 409.0,463.0 C411.3,463.7 415.5,463.0 417.0,464.0 C418.5,465.0 416.7,467.3 418.0,469.0 C419.3,470.7 422.5,473.0 425.0,474.0 C427.5,475.0 431.3,474.2 433.0,475.0 C434.7,475.8 433.7,477.8 435.0,479.0 C436.3,480.2 439.0,481.5 441.0,482.0 C443.0,482.5 445.5,481.0 447.0,482.0 C448.5,483.0 448.7,486.5 450.0,488.0 C451.3,489.5 452.8,490.7 455.0,491.0 C457.2,491.3 460.3,490.3 463.0,490.0 C465.7,489.7 469.7,489.2 471.0,489.0" />
<ellipse class="w" cx="392.0" cy="434.5" rx="13.5" ry="9" transform="rotate(68 392.0 434.5)"/>
<path class="l" d="M391.9,439.2 L391.1,438.7 L390.4,438.0 L389.8,437.2 L389.3,436.3 L389.0,435.3 L388.8,434.3 L388.8,433.3 L388.9,432.4 L389.3,431.5 L389.7,430.9 L390.3,430.4 L391.0,430.1 L391.8,430.0 L392.6,430.1 L393.4,430.4 L394.2,430.9 L394.9,431.6 L395.5,432.5 L395.9,433.4 L396.2,434.4 L396.4,435.4 L396.4,436.4 L396.2,437.3 L395.9,438.1" />
<ellipse class="w" cx="458.5" cy="472.5" rx="14" ry="10" transform="rotate(68 458.5 472.5)"/>
<path class="l" d="M458.2,477.6 L457.4,477.1 L456.7,476.4 L456.0,475.5 L455.5,474.6 L455.2,473.5 L455.0,472.5 L455.0,471.4 L455.2,470.5 L455.5,469.6 L456.0,468.9 L456.6,468.4 L457.4,468.1 L458.2,468.0 L459.0,468.1 L459.9,468.4 L460.7,469.0 L461.4,469.7 L462.0,470.6 L462.5,471.5 L462.8,472.6 L463.0,473.6 L463.0,474.7 L462.8,475.6 L462.4,476.5" />
<path class="t" d="M382.3,438.4 L381.7,436.8 L381.2,435.1 L380.9,433.4 L380.8,431.8 L380.8,430.1 L380.9,428.6 L381.2,427.1 L381.7,425.7 L382.3,424.4 L383.0,423.3 L383.8,422.3 L384.8,421.5 L385.8,420.8 L387.0,420.4 L388.2,420.1 L389.4,420.0 L390.7,420.2 L392.0,420.5 L393.3,421.0 L394.6,421.7 L395.8,422.5 L397.0,423.6 L398.2,424.7 L399.2,426.0" />
<path class="t" d="M447.8,476.8 L447.2,475.1 L446.8,473.4 L446.5,471.6 L446.4,469.9 L446.4,468.2 L446.6,466.6 L447.0,465.0 L447.5,463.5 L448.1,462.2 L448.9,461.0 L449.9,460.0 L450.9,459.1 L452.1,458.4 L453.3,457.9 L454.6,457.6 L456.0,457.5 L457.4,457.6 L458.8,457.9 L460.2,458.4 L461.6,459.1 L462.9,460.0 L464.2,461.0 L465.4,462.2 L466.5,463.5" />
<path class="l" d="M407,430 L414,432 V460 M419,438 L428,439 L429,469 M433,446 L441,447 L442,478 M446,453 L453,454" />
<path class="t" d="M469.0,462.0 C470.0,461.7 473.5,459.7 475.0,460.0 C476.5,460.3 477.5,462.3 478.0,464.0 C478.5,465.7 478.8,468.0 478.0,470.0 C477.2,472.0 473.8,475.0 473.0,476.0" />
<path class="t" d="M471.0,466.0 C471.7,465.8 474.2,464.3 475.0,465.0 C475.8,465.7 476.0,468.9 475.6,470.0 C475.2,471.1 473.1,471.3 472.6,471.6" />
<path class="l" d="M510.1,481.2 C509.2,481.5 510.4,478.0 505.5,483.0 C500.6,488.0 487.2,503.0 483.5,508.7 C479.8,514.4 483.1,510.8 485.3,514.2 C487.5,517.5 493.1,523.0 495.4,527.0 C497.8,531.0 498.0,533.0 498.2,536.2 C498.3,539.4 497.7,542.7 496.3,544.4 C495.0,546.1 492.7,545.3 490.8,545.3 C489.0,545.3 487.6,544.1 486.3,544.4 C484.9,544.8 483.8,545.5 483.5,547.2 C483.2,548.8 483.4,551.9 484.4,553.6 C485.4,555.3 486.5,556.2 489.0,556.3 C491.5,556.5 494.8,555.7 498.2,554.5 C501.5,553.3 503.5,551.6 507.3,549.9 C511.2,548.2 517.1,546.2 519.3,545.3" />
<path class="l" d="M510.1,481.2 L555.0,460.1" />
<path class="l" d="M555.0,460.1 C556.1,459.2 557.4,456.8 559.6,456.4 C561.7,456.0 560.5,455.3 564.2,458.3 C567.8,461.2 571.7,465.4 575.2,469.3 C578.6,473.1 578.2,472.2 578.8,474.8 C579.5,477.3 578.1,479.0 577.9,480.3" />
<path class="l" d="M517.4,483.0 L556.8,463.8" />
<path class="l" d="M576.1,481.2 C577.1,484.1 579.3,486.3 579.8,492.2 C580.2,498.0 582.1,497.1 577.9,503.2 C573.8,509.3 567.8,511.9 564.2,515.1" />
<path class="l" d="M564.2,515.1 L538.5,528.8 L536.7,536.2" />
<path class="l" d="M538.5,534.3 C537.4,535.6 535.4,536.4 533.9,539.8 C532.4,543.3 533.6,544.7 532.1,549.0 C530.6,553.3 529.9,555.6 527.5,558.2 C525.1,560.7 524.4,560.4 522.0,560.0 C519.6,559.6 518.7,558.7 517.4,556.3 C516.1,554.0 516.1,552.5 516.5,549.9 C516.9,547.4 514.5,548.5 519.3,545.3 C524.0,542.1 532.6,538.3 536.7,536.2" />
<path class="l" d="M507.3,486.7 C503.8,490.7 490.9,503.5 488.1,508.7 C485.2,513.9 489.4,511.4 491.8,515.1 C494.1,518.8 498.7,524.6 500.9,528.8 C503.1,533.0 503.3,534.6 503.7,538.0 C504.0,541.4 502.9,545.5 502.8,547.2" />
<path class="t" d="M507.3,486.7 L514.7,483.4" />
<path class="l" d="M526.4,554.3 L525.7,554.7 L525.0,555.0 L524.2,555.0 L523.5,554.9 L522.8,554.6 L522.2,554.2 L521.7,553.6 L521.4,552.9 L521.1,552.1 L521.1,551.3 L521.1,550.4 L521.4,549.6 L521.7,548.8 L522.2,548.1 L522.8,547.5 L523.5,547.0 L524.2,546.7 L525.0,546.6 L525.7,546.6 L526.4,546.8 L527.0,547.2 L527.6,547.7 L528.0,548.4 L528.3,549.1" />
<path class="t" d="M520.5,546.3 C521.2,545.7 523.0,543.5 524.8,543.1 C526.5,542.7 529.9,543.0 531.2,543.9 C532.4,544.7 532.1,547.4 532.3,548.1" />
<path class="l" d="M578.2,474.7 L578.5,475.5 L578.6,476.3 L578.5,477.1 L578.3,477.8 L577.9,478.3 L577.4,478.7 L576.8,478.9 L576.1,478.8 L575.4,478.5 L574.8,478.1 L574.3,477.5 L573.8,476.7 L573.5,475.9 L573.4,475.1 L573.5,474.3 L573.7,473.6 L574.1,473.1 L574.6,472.7 L575.2,472.5 L575.9,472.6 L576.6,472.9 L577.2,473.3 L577.7,473.9 L578.2,474.7" />
<path class="t" d="M569.3,472.4 C569.8,471.8 571.0,469.0 572.4,469.1 C573.9,469.2 576.8,471.5 577.9,472.9 C579.0,474.3 579.0,476.7 579.2,477.5" />
<ellipse class="l" cx="523.8" cy="495.8" rx="2.8" ry="3.8" transform="rotate(25 523.8 495.8)"/>
<path class="l" d="M518.7,498.0 C519.0,496.9 518.0,495.4 519.8,493.6 C521.6,491.9 522.0,491.6 525.3,491.4 C528.6,491.2 529.9,491.1 532.1,492.9 C534.3,494.7 533.2,496.7 533.6,498.0" />
<path class="l" d="M518.7,498.0 C518.0,498.8 516.3,499.7 515.6,501.3 C514.9,503.0 515.4,502.9 515.6,505.0 C515.8,507.1 516.3,509.2 516.5,510.5" />
<path class="l" d="M517.4,483.4 L533.0,492.5" />
<path class="t" d="M501.8,494.0 L502.9,499.9" />
<path class="l" d="M505.5,492.2 L515.6,498.6" />
<path class="l" d="M519.3,510.5 L531.2,506.8" />
<path class="l" d="M503.7,503.2 C504.6,504.1 507.6,506.5 509.2,508.7 C510.7,510.9 512.2,515.1 512.8,516.4" />
<path class="l" d="M519.3,512.3 L523.8,521.5" />
<path class="l" d="M533.9,505.0 L538.5,513.3" />
<path class="t" d="M533.6,498.0 L533.0,502.3" />
<path class="t" d="M543,512.3 H550.4 M543,512.3 A3.8,6 0 0 0 550.4,512.3 M546.7,512.3 V518 M544.3,516.5 L549.3,513" />
<path class="ld" d="M525.7,496.8 L563.3,516.9" />
<path class="l" d="M562.8,522.6 L582.5,534.7 M566.4,516.8 L586.1,528.9" />
<ellipse class="l" cx="564.6" cy="519.7" rx="1.9" ry="3.4" transform="rotate(31.558795162901276 564.6 519.7)"/>
<path class="l" d="M568.1,517.9 L568.6,518.5 L568.8,519.4 L568.5,520.6 L568.0,521.8 L567.2,522.8 L566.3,523.5 L565.3,523.8 L564.6,523.7" />
<path class="l" d="M569.9,519.0 L570.4,519.6 L570.5,520.5 L570.3,521.7 L569.7,522.9 L568.9,523.9 L568.0,524.6 L567.1,524.9 L566.4,524.8" />
<path class="l" d="M571.7,520.1 L572.2,520.7 L572.3,521.6 L572.1,522.8 L571.5,523.9 L570.7,525.0 L569.8,525.7 L568.9,526.0 L568.1,525.8" />
<path class="l" d="M573.4,521.1 L573.9,521.7 L574.1,522.7 L573.8,523.8 L573.3,525.0 L572.5,526.1 L571.5,526.8 L570.6,527.1 L569.9,526.9" />
<path class="l" d="M575.2,522.2 L575.7,522.8 L575.8,523.8 L575.6,524.9 L575.0,526.1 L574.2,527.1 L573.3,527.9 L572.4,528.2 L571.6,528.0" />
<path class="l" d="M577.0,523.3 L577.5,523.9 L577.6,524.9 L577.4,526.0 L576.8,527.2 L576.0,528.2 L575.1,529.0 L574.2,529.3 L573.4,529.1" />
<path class="l" d="M578.7,524.4 L579.2,525.0 L579.4,525.9 L579.1,527.1 L578.6,528.3 L577.8,529.3 L576.8,530.0 L575.9,530.3 L575.2,530.2" />
<ellipse class="w" cx="585.6" cy="532.6" rx="3.5" ry="8.6" transform="rotate(31.558795162901276 585.6 532.6)"/>
<ellipse class="w" cx="587.0" cy="533.5" rx="3.5" ry="8.6" transform="rotate(31.558795162901276 587.0 533.5)"/>
<path class="w" d="M584.8,540.0 L590.1,543.9 L591.0,544.1 L592.1,544.0 L593.3,543.3 L594.5,542.3 L595.7,541.0 L596.8,539.5 L597.7,537.8 L598.3,536.2 L598.7,534.6 L598.7,533.3 L598.3,532.2 L597.7,531.5 L591.8,528.5" />
<path class="t" d="M592.1,532.8 L594.3,534.1" />
<path class="t" d="M588.3,538.5 L590.2,539.7" />
<path class="l" d="M534.9,562.5 L560.4,576.6 M538.1,556.5 L563.6,570.6" />
<ellipse class="l" cx="536.5" cy="559.5" rx="1.9" ry="3.4" transform="rotate(28.940012692839403 536.5 559.5)"/>
<path class="l" d="M540.1,557.6 L540.6,558.2 L540.8,559.1 L540.6,560.3 L540.1,561.5 L539.4,562.6 L538.5,563.3 L537.6,563.7 L536.8,563.6" />
<path class="l" d="M542.1,558.7 L542.6,559.3 L542.8,560.2 L542.6,561.4 L542.1,562.6 L541.3,563.7 L540.5,564.4 L539.6,564.8 L538.8,564.7" />
<path class="l" d="M544.1,559.8 L544.6,560.4 L544.7,561.3 L544.6,562.5 L544.1,563.7 L543.3,564.8 L542.4,565.5 L541.5,565.9 L540.8,565.7" />
<path class="l" d="M546.0,560.9 L546.5,561.5 L546.7,562.4 L546.5,563.6 L546.0,564.8 L545.3,565.8 L544.4,566.6 L543.5,567.0 L542.7,566.8" />
<path class="l" d="M548.0,562.0 L548.5,562.5 L548.7,563.5 L548.5,564.7 L548.0,565.9 L547.3,566.9 L546.4,567.7 L545.5,568.0 L544.7,567.9" />
<path class="l" d="M550.0,563.1 L550.5,563.6 L550.7,564.6 L550.5,565.7 L550.0,567.0 L549.2,568.0 L548.3,568.8 L547.4,569.1 L546.7,569.0" />
<ellipse class="w" cx="563.3" cy="574.3" rx="3.5" ry="8.6" transform="rotate(28.940012692839403 563.3 574.3)"/>
<ellipse class="w" cx="564.8" cy="575.1" rx="3.5" ry="8.6" transform="rotate(28.940012692839403 564.8 575.1)"/>
<path class="w" d="M562.9,581.8 L569.8,586.2 L570.7,586.4 L571.7,586.2 L572.9,585.5 L574.1,584.4 L575.3,583.1 L576.3,581.5 L577.1,579.8 L577.6,578.1 L577.9,576.5 L577.8,575.2 L577.4,574.1 L576.8,573.5 L569.4,570.0" />
<path class="t" d="M569.9,574.2 L572.1,575.4" />
<path class="t" d="M566.3,580.1 L568.3,581.2" />
<path class="l" d="M117.5,613.8 C115.5,612.9 112.5,613.0 108.8,610.0 C105.0,607.0 103.2,605.3 101.2,601.0 C99.3,596.7 100.4,595.0 100.5,591.5 C100.6,588.0 100.3,587.9 101.5,586.0 C102.7,584.1 104.6,583.9 105.5,583.2" />
<path class="l" d="M105.5,583.2 L141.2,563.5" />
<path class="l" d="M141.2,563.5 C142.4,563.7 142.8,562.9 146.2,564.5 C149.8,566.1 152.5,569.5 156.2,570.2 C160.0,571.0 159.9,568.1 162.5,567.8 C165.1,567.4 166.3,568.5 167.5,568.8" />
<path class="l" d="M167.5,568.8 L200.0,591.2 L198.8,595.5 L195.0,593.8" />
<path class="t" d="M197.5,591.2 L197.5,596.2" />
<path class="l" d="M199.5,595.5 C201.4,596.7 202.8,597.5 206.7,600.0 C210.6,602.5 210.5,602.3 214.0,605.0 C217.5,607.7 217.7,606.0 220.0,610.0 C222.3,614.0 222.6,614.8 222.8,620.0 C223.0,625.2 222.6,626.0 220.8,629.5 C219.0,633.0 217.3,632.1 216.0,633.0" />
<path class="l" d="M216,633 L186.7,648.3 L184.5,650.5" />
<ellipse class="l" cx="111.0" cy="599.0" rx="5" ry="7.5" transform="rotate(-15 111.0 599.0)"/>
<path class="l" d="M108.8,585.5 C110.0,586.2 114.3,588.1 116.2,590.0 C118.2,591.9 119.7,594.7 120.5,597.0 C121.3,599.3 121.1,602.6 121.2,603.8" />
<ellipse class="w" cx="149.0" cy="600.0" rx="28.2" ry="14.5"/>
<ellipse class="l" cx="149.0" cy="601.0" rx="17.5" ry="9.5"/>
<path class="t" d="M133.5,605 A17.5,9 0 0 1 164.5,605" />
<path class="t" d="M135.0,596.0 V598.7" />
<path class="t" d="M137.3,594.7 V601.5" />
<path class="t" d="M139.7,593.7 V601.1" />
<path class="t" d="M142.1,593.1 V600.7" />
<path class="t" d="M144.4,592.6 V600.5" />
<path class="t" d="M146.8,592.4 V600.4" />
<path class="t" d="M149.1,592.3 V600.4" />
<path class="t" d="M151.4,592.4 V600.4" />
<path class="t" d="M153.8,592.7 V600.5" />
<path class="t" d="M156.2,593.1 V600.8" />
<path class="t" d="M158.5,593.8 V601.1" />
<path class="t" d="M160.8,594.8 V601.6" />
<path class="t" d="M163.2,596.2 V598.8" />
<path class="l" d="M121.2,601.2 C121.1,604.5 120.8,610.8 120.5,617.5 C120.2,624.2 119.3,630.1 120.0,635.0 C120.7,639.9 121.8,639.9 123.8,642.0 C125.8,644.1 126.0,644.1 130.0,645.5 C134.0,646.9 139.2,648.6 143.8,648.8 C148.2,648.9 150.8,646.8 152.5,646.2" />
<path class="l" d="M177.5,601.2 C176.5,603.5 180.4,605.5 173.8,609.5 C167.1,613.5 158.2,614.5 152.5,616.2" />
<path class="l" d="M148.3,616.7 C150.1,616.8 150.9,616.8 156.0,617.3 C161.1,617.8 165.1,617.7 170.0,619.0 C174.9,620.3 174.0,620.0 177.0,623.0 C180.0,626.0 180.7,628.2 183.0,631.7 C185.3,635.2 185.8,635.4 187.0,638.0 C188.2,640.6 188.1,640.6 188.0,643.0 C187.9,645.4 188.1,646.4 186.7,648.3 C185.3,650.2 184.3,650.7 182.0,651.0 C179.7,651.3 178.2,649.9 177.0,649.5" />
<path class="t" d="M122.0,605.0 C122.5,605.8 123.7,608.3 125.0,609.5 C126.3,610.7 129.2,611.6 130.0,612.0" />
<path class="l" d="M161.7,620.8 C160.6,621.8 159.1,622.3 157.5,624.5 C155.9,626.7 156.1,625.7 155.6,629.0 C155.1,632.3 155.1,633.6 155.6,636.7 C156.1,639.8 156.1,638.8 157.5,640.5 C158.9,642.2 159.9,642.3 160.8,643.0" />
<path class="l" d="M165.8,622.5 C165.2,623.4 164.3,624.0 163.6,626.0 C162.9,628.0 162.9,627.7 163.0,630.0 C163.1,632.3 163.3,632.4 164.0,634.5 C164.7,636.6 165.3,637.1 165.8,638.0" />
<path class="l" d="M170.8,630.8 C171.8,630.3 171.7,629.6 174.0,629.2 C176.3,628.8 176.1,628.5 178.5,629.5 C180.9,630.5 180.6,630.3 182.0,632.5 C183.4,634.7 183.2,634.3 183.3,636.7 C183.5,639.1 183.5,638.8 182.5,640.5 C181.5,642.2 180.8,641.9 180.0,642.5" />
<path class="l" d="M172.5,637.5 C172.4,636.6 171.8,636.1 172.2,634.5 C172.6,632.9 172.6,633.0 174.0,632.3 C175.4,631.5 175.3,631.5 177.0,632.0 C178.7,632.5 178.6,632.4 179.5,634.0 C180.4,635.6 180.3,635.6 180.0,637.5 C179.7,639.4 178.9,639.5 178.5,640.3" />
<path class="ld" d="M175,637.5 L142.5,655 L183,674.6 L170.75,681.6" />
<path class="l" d="M165.1,679.1 L15.7,765.2 M170.5,688.7 L21.2,774.8" />
<path class="l" d="M165.1,679.1 L165.9,679.0 L166.9,679.3 L168.0,680.0 L169.1,681.2 L170.1,682.6 L170.8,684.1 L171.2,685.7 L171.3,687.0 L171.1,688.0 L170.5,688.7" />
<path class="l" d="M162.0,680.9 L162.8,680.7 L163.8,681.1 L164.9,681.8 L166.0,683.0 L167.0,684.4 L167.7,685.9 L168.2,687.4 L168.3,688.8 L168.0,689.8 L167.5,690.4" />
<path class="l" d="M158.9,682.7 L159.7,682.5 L160.8,682.8 L161.9,683.6 L162.9,684.7 L163.9,686.1 L164.6,687.7 L165.1,689.2 L165.2,690.5 L165.0,691.6 L164.4,692.2" />
<path class="l" d="M155.8,684.5 L156.7,684.3 L157.7,684.6 L158.8,685.4 L159.9,686.5 L160.8,687.9 L161.6,689.5 L162.0,691.0 L162.1,692.3 L161.9,693.3 L161.3,694.0" />
<path class="l" d="M152.8,686.2 L153.6,686.1 L154.6,686.4 L155.7,687.1 L156.8,688.3 L157.8,689.7 L158.5,691.2 L158.9,692.7 L159.0,694.1 L158.8,695.1 L158.2,695.8" />
<path class="l" d="M149.7,688.0 L150.5,687.8 L151.5,688.1 L152.6,688.9 L153.7,690.1 L154.7,691.5 L155.4,693.0 L155.9,694.5 L156.0,695.9 L155.7,696.9 L155.2,697.5" />
<path class="l" d="M146.6,689.8 L147.4,689.6 L148.4,689.9 L149.6,690.7 L150.6,691.8 L151.6,693.2 L152.3,694.8 L152.8,696.3 L152.9,697.6 L152.7,698.7 L152.1,699.3" />
<path class="l" d="M143.5,691.5 L144.4,691.4 L145.4,691.7 L146.5,692.5 L147.6,693.6 L148.5,695.0 L149.3,696.5 L149.7,698.1 L149.8,699.4 L149.6,700.4 L149.0,701.1" />
<path class="l" d="M140.4,693.3 L141.3,693.2 L142.3,693.5 L143.4,694.2 L144.5,695.4 L145.4,696.8 L146.2,698.3 L146.6,699.8 L146.7,701.2 L146.5,702.2 L145.9,702.8" />
<path class="l" d="M137.4,695.1 L138.2,694.9 L139.2,695.2 L140.3,696.0 L141.4,697.1 L142.4,698.6 L143.1,700.1 L143.6,701.6 L143.7,702.9 L143.4,704.0 L142.9,704.6" />
<path class="l" d="M134.3,696.9 L135.1,696.7 L136.1,697.0 L137.3,697.8 L138.3,698.9 L139.3,700.3 L140.0,701.9 L140.5,703.4 L140.6,704.7 L140.4,705.8 L139.8,706.4" />
<path class="w" d="M12.9,760.4 L14.2,759.9 L15.6,759.8 L17.2,760.1 L18.8,760.7 L20.4,761.8 L21.9,763.1 L23.3,764.7 L24.5,766.5 L25.5,768.5 L26.2,770.5 L26.6,772.4 L26.6,774.3 L26.4,776.1 L25.9,777.6 L25.1,778.8 L24.0,779.6" />
<path class="l" d="M12.9,760.4 L6.0,764.4 M24.0,779.6 L17.0,783.6" />
<path d="M12.9,760.4 L6.0,764.4 L17.0,783.6 L24.0,779.6Z" fill="#fff" stroke="none"/>
<path class="l" d="M12.9,760.4 L14.2,759.9 L15.6,759.8 L17.2,760.1 L18.8,760.7 L20.4,761.8 L21.9,763.1 L23.3,764.7 L24.5,766.5 L25.5,768.5 L26.2,770.5 L26.6,772.4 L26.6,774.3 L26.4,776.1 L25.9,777.6 L25.1,778.8 L24.0,779.6" />
<path class="l" d="M12.9,760.4 L6.0,764.4 M24.0,779.6 L17.0,783.6" />
<ellipse class="w" cx="11.5" cy="774.0" rx="7" ry="11.1" transform="rotate(150.0384632988898 11.5 774.0)"/>
<path class="l" d="M14.7,765.1 L20.1,762.0" />
<path class="l" d="M19.0,776.1 L24.7,772.8" />
<path d="M343,671.8 L334,677.6" fill="none" stroke="#111" stroke-width="3.9" stroke-linecap="butt" stroke-linejoin="round"/>
<path d="M343,671.8 L334,677.6" fill="none" stroke="#fff" stroke-width="1.7999999999999998" stroke-linecap="butt" stroke-linejoin="round"/>
<path d="M350.5,667.7 L342.7,672" fill="none" stroke="#111" stroke-width="5.0" stroke-linecap="butt" stroke-linejoin="round"/>
<path d="M350.5,667.7 L342.7,672" fill="none" stroke="#fff" stroke-width="2.9" stroke-linecap="butt" stroke-linejoin="round"/>
<path d="M244.3,819 V827.3" fill="none" stroke="#111" stroke-width="3.9" stroke-linecap="butt" stroke-linejoin="round"/>
<path d="M244.3,819 V827.3" fill="none" stroke="#fff" stroke-width="1.7999999999999998" stroke-linecap="butt" stroke-linejoin="round"/>
<path d="M244.3,827 V834.5" fill="none" stroke="#111" stroke-width="5.2" stroke-linecap="butt" stroke-linejoin="round"/>
<path d="M244.3,827 V834.5" fill="none" stroke="#fff" stroke-width="3.1" stroke-linecap="butt" stroke-linejoin="round"/>
<path d="M334,677.6 L290,703.5 L272,714 Q250,727 245.5,747 Q244.35,752 244.35,760 L244.35,819.5" fill="none" stroke="#111" stroke-width="6.2" stroke-linecap="butt" stroke-linejoin="round"/>
<path d="M334,677.6 L290,703.5 L272,714 Q250,727 245.5,747 Q244.35,752 244.35,760 L244.35,819.5" fill="none" stroke="#fff" stroke-width="4.1" stroke-linecap="butt" stroke-linejoin="round"/>
<path class="l" d="M332.4,674.9 L335.6,680.3" />
<path class="l" d="M247.4,819.5 L241.2,819.5" />
<path class="l" d="M341.4,669.8 L344.0,674.2" />
<path class="l" d="M246.9,827.0 L241.7,827.0" />
<ellipse class="w" cx="356.0" cy="665.3" rx="8.3" ry="5" transform="rotate(-6 356.0 665.3)"/>
<ellipse class="l" cx="356.0" cy="665.3" rx="4" ry="2" transform="rotate(-6 356.0 665.3)"/>
<ellipse class="w" cx="244.2" cy="842.0" rx="9" ry="5.6" transform="rotate(-58 244.2 842.0)"/>
<ellipse class="l" cx="244.2" cy="842.0" rx="4.8" ry="2.2" transform="rotate(-58 244.2 842.0)"/>
<path d="M353.6,702.5 L344,709.6" fill="none" stroke="#111" stroke-width="3.9" stroke-linecap="butt" stroke-linejoin="round"/>
<path d="M353.6,702.5 L344,709.6" fill="none" stroke="#fff" stroke-width="1.7999999999999998" stroke-linecap="butt" stroke-linejoin="round"/>
<path d="M359.6,698.5 L353.3,702.7" fill="none" stroke="#111" stroke-width="5.0" stroke-linecap="butt" stroke-linejoin="round"/>
<path d="M359.6,698.5 L353.3,702.7" fill="none" stroke="#fff" stroke-width="2.9" stroke-linecap="butt" stroke-linejoin="round"/>
<path d="M276.9,770.5 L277.4,778.3" fill="none" stroke="#111" stroke-width="3.9" stroke-linecap="butt" stroke-linejoin="round"/>
<path d="M276.9,770.5 L277.4,778.3" fill="none" stroke="#fff" stroke-width="1.7999999999999998" stroke-linecap="butt" stroke-linejoin="round"/>
<path d="M276.9,778 L276.7,784.5" fill="none" stroke="#111" stroke-width="5.2" stroke-linecap="butt" stroke-linejoin="round"/>
<path d="M276.9,778 L276.7,784.5" fill="none" stroke="#fff" stroke-width="3.1" stroke-linecap="butt" stroke-linejoin="round"/>
<path d="M344,709.6 L311,728.2 Q301,733.5 294.7,738.1 Q289,742.5 285.3,747.7 Q281.5,753 279,759.5 Q277.3,765 276.9,771" fill="none" stroke="#111" stroke-width="6.2" stroke-linecap="butt" stroke-linejoin="round"/>
<path d="M344,709.6 L311,728.2 Q301,733.5 294.7,738.1 Q289,742.5 285.3,747.7 Q281.5,753 279,759.5 Q277.3,765 276.9,771" fill="none" stroke="#fff" stroke-width="4.1" stroke-linecap="butt" stroke-linejoin="round"/>
<path class="l" d="M342.3,707.0 L345.7,712.2" />
<path class="l" d="M280.0,770.9 L273.8,771.1" />
<path class="l" d="M351.9,700.6 L354.7,704.8" />
<path class="l" d="M279.5,777.9 L274.3,778.1" />
<ellipse class="w" cx="366.7" cy="696.7" rx="7.8" ry="5" transform="rotate(-6 366.7 696.7)"/>
<ellipse class="l" cx="366.7" cy="696.7" rx="4" ry="2" transform="rotate(-6 366.7 696.7)"/>
<ellipse class="w" cx="276.6" cy="793.8" rx="9" ry="5.6" transform="rotate(-58 276.6 793.8)"/>
<ellipse class="l" cx="276.6" cy="793.8" rx="4.8" ry="2.2" transform="rotate(-58 276.6 793.8)"/>
<path class="t" d="M363.3,712.5 V724 M370,712.5 V724 M363.3,712.5 A3.4,1.4 0 0 1 370,712.5" />
<path class="t" d="M363.3,714.5 A3.4,1.4 0 0 0 370,714.5" />
<path class="t" d="M363.3,716.5 A3.4,1.4 0 0 0 370,716.5" />
<path class="t" d="M363.3,718.5 A3.4,1.4 0 0 0 370,718.5" />
<path class="t" d="M363.3,720.5 A3.4,1.4 0 0 0 370,720.5" />
<path class="t" d="M363.3,722.5 A3.4,1.4 0 0 0 370,722.5" />
<path class="l" d="M359.4,726.5 V729 A7.3,3.4 0 0 0 374,729 V726.5" />
<ellipse class="w" cx="366.7" cy="726.5" rx="7.3" ry="3.4"/>
<path class="t" d="M363.3,725.4 A3.4,1.4 0 0 0 370,725.4" />
<path class="t" d="M253.7,849.1 L263.7,855.9 M257.3,843.9 L267.3,850.7" />
<ellipse class="t" cx="255.5" cy="846.5" rx="1.3" ry="3.2" transform="rotate(34.21570213243723 255.5 846.5)"/>
<path class="t" d="M259.0,845.0 L259.2,845.5 L259.2,846.3 L258.8,847.3 L258.2,848.4 L257.5,849.3 L256.6,850.0 L255.9,850.3 L255.4,850.3" />
<path class="t" d="M260.6,846.1 L260.9,846.6 L260.8,847.4 L260.5,848.4 L259.9,849.5 L259.1,850.4 L258.3,851.1 L257.6,851.5 L257.0,851.4" />
<path class="t" d="M262.3,847.2 L262.5,847.7 L262.5,848.5 L262.1,849.5 L261.5,850.6 L260.8,851.6 L259.9,852.3 L259.2,852.6 L258.7,852.5" />
<path class="t" d="M263.9,848.4 L264.2,848.8 L264.1,849.6 L263.8,850.7 L263.2,851.7 L262.4,852.7 L261.6,853.4 L260.9,853.7 L260.3,853.6" />
<path class="t" d="M265.6,849.5 L265.8,850.0 L265.8,850.8 L265.5,851.8 L264.8,852.9 L264.1,853.8 L263.3,854.5 L262.5,854.8 L262.0,854.8" />
<ellipse class="w" cx="268.8" cy="855.5" rx="4.6" ry="6.2" transform="rotate(34.21570213243723 268.8 855.5)"/>
<path class="l" d="M263.4,859.1 L262.8,858.3 L262.6,857.2 L262.8,855.7 L263.3,854.1 L264.3,852.5 L265.4,851.0 L266.7,849.9 L268.0,849.1 L269.2,848.9 L270.1,849.2" />
<path class="t" d="M268.5,853.5 L272,858.5 M272.5,854 L268.5,858" />
<path class="l" d="M473.0,674.4 L475.2,672.8 L488.0,680.0 L488.0,685.0 L486.0,686.2 L473.0,679.2Z" />
<path class="t" d="M473.0,674.4 L486.0,681.4 L486.0,686.2" />
<path class="t" d="M486.0,681.4 L488.0,680.0" />
<path class="t" d="M476.4,678.4 L484.4,682.8 L485.2,681.6 L477.6,677.2Z" />
<path class="l" d="M477.2,682.0 L476.4,793.0 L478.0,799.0 L482.0,800.0 L484.4,794.0 L484.8,685.6" />
<path class="w" d="M475.2,697.2 L485.0,701.2 L485.0,705.2 L475.2,701.2Z" />
<path class="t" d="M476.4,788.0 L484.4,788.0" />
<path d="M477,717.0 H484.6" stroke="#555" stroke-width="0.6" fill="none"/>
<path d="M477,719.0 H484.6" stroke="#555" stroke-width="0.6" fill="none"/>
<path d="M477,721.0 H484.6" stroke="#555" stroke-width="0.6" fill="none"/>
<path d="M477,723.0 H484.6" stroke="#555" stroke-width="0.6" fill="none"/>
<path d="M477,725.0 H484.6" stroke="#555" stroke-width="0.6" fill="none"/>
<path d="M477,727.0 H484.6" stroke="#555" stroke-width="0.6" fill="none"/>
<path d="M477,729.0 H484.6" stroke="#555" stroke-width="0.6" fill="none"/>
<path d="M477,731.0 H484.6" stroke="#555" stroke-width="0.6" fill="none"/>
<path d="M477,733.0 H484.6" stroke="#555" stroke-width="0.6" fill="none"/>
<path d="M477,735.0 H484.6" stroke="#555" stroke-width="0.6" fill="none"/>
<path d="M477,737.0 H484.6" stroke="#555" stroke-width="0.6" fill="none"/>
<path d="M477,739.0 H484.6" stroke="#555" stroke-width="0.6" fill="none"/>
<path d="M477,741.0 H484.6" stroke="#555" stroke-width="0.6" fill="none"/>
<path d="M477,743.0 H484.6" stroke="#555" stroke-width="0.6" fill="none"/>
<path d="M477,745.0 H484.6" stroke="#555" stroke-width="0.6" fill="none"/>
<path d="M477,747.0 H484.6" stroke="#555" stroke-width="0.6" fill="none"/>
<path d="M477,749.0 H484.6" stroke="#555" stroke-width="0.6" fill="none"/>
<path d="M477,751.0 H484.6" stroke="#555" stroke-width="0.6" fill="none"/>
<path d="M477,753.0 H484.6" stroke="#555" stroke-width="0.6" fill="none"/>
<path d="M477,755.0 H484.6" stroke="#555" stroke-width="0.6" fill="none"/>
<path d="M477,757.0 H484.6" stroke="#555" stroke-width="0.6" fill="none"/>
<path d="M477,759.0 H484.6" stroke="#555" stroke-width="0.6" fill="none"/>
<path d="M477,761.0 H484.6" stroke="#555" stroke-width="0.6" fill="none"/>
<path d="M477,763.0 H484.6" stroke="#555" stroke-width="0.6" fill="none"/>
<path d="M477,765.0 H484.6" stroke="#555" stroke-width="0.6" fill="none"/>
<path d="M477,767.0 H484.6" stroke="#555" stroke-width="0.6" fill="none"/>
<path d="M477,769.0 H484.6" stroke="#555" stroke-width="0.6" fill="none"/>
<path d="M477,771.0 H484.6" stroke="#555" stroke-width="0.6" fill="none"/>
<path d="M477,773.0 H484.6" stroke="#555" stroke-width="0.6" fill="none"/>
<path d="M477,775.0 H484.6" stroke="#555" stroke-width="0.6" fill="none"/>
<path d="M477,777.0 H484.6" stroke="#555" stroke-width="0.6" fill="none"/>
<path d="M477,779.0 H484.6" stroke="#555" stroke-width="0.6" fill="none"/>
<path d="M477,781.0 H484.6" stroke="#555" stroke-width="0.6" fill="none"/>
<path d="M477,783.0 H484.6" stroke="#555" stroke-width="0.6" fill="none"/>
<path d="M477,785.0 H484.6" stroke="#555" stroke-width="0.6" fill="none"/>
<path d="M37.0,852.5 L45.7,837.2 L47.6,840.5 L65.5,829.8 L67.1,842.6 L48.1,853.1 L47.6,857.8Z" fill="#0a0a0a" stroke="#0a0a0a" stroke-width="0.6" stroke-linejoin="round"/>
<path d="M38.3,851.8 L46.0,838.7 M48.8,840.5 L64.8,831.0" fill="none" stroke="#fff" stroke-width="0.6"/>
<g filter="url(#idf)"><text transform="matrix(0.87,-0.5,-0.2,1,48.6,851.2)" x="0" y="0" style="font-size:9.6px;font-weight:bold;fill:#fff;stroke:#fff;stroke-width:0.15px;text-anchor:start;letter-spacing:-0.8px">FWD</text></g>
</g>
</svg>
</body></html>
